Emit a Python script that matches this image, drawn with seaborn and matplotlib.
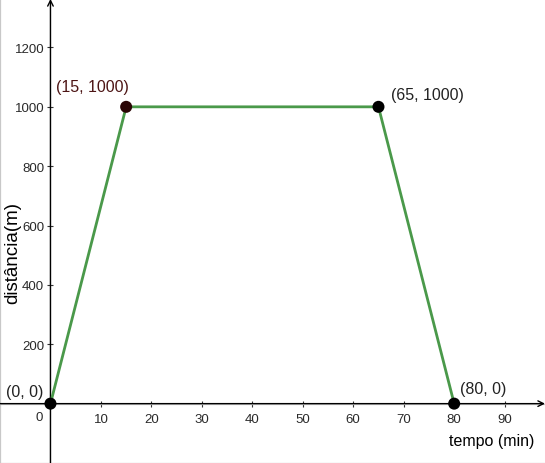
import matplotlib
matplotlib.use("Agg")
import matplotlib.pyplot as plt
import seaborn as sns
import pandas as pd

# data
tempo = [0, 15, 65, 80]
distancia = [0, 1000, 1000, 0]
point_labels = ["(0, 0)", "(15, 1000)", "(65, 1000)", "(80, 0)"]
x_ticks = [10, 20, 30, 40, 50, 60, 70, 80, 90]
y_ticks = [200, 400, 600, 800, 1000, 1200]

df = pd.DataFrame({"tempo": tempo, "distancia": distancia})

sns.set_theme(style="white")
plt.rcParams["font.family"] = ["Liberation Sans", "DejaVu Sans"]

fig = plt.figure(figsize=(5.45, 4.64), dpi=100)
ax = fig.add_axes([0, 0, 1, 1])
ax.set_xlim(-9.9, 98.0)
ax.set_ylim(-183.3, 1363.3)

# grid
ax.set_xticks(range(-10, 100, 10), minor=True)
ax.set_yticks(range(-200, 1400, 200), minor=True)
ax.grid(which="minor", color="#c8c8c8", linewidth=0.9)
ax.tick_params(which="minor", length=0)

for s in ["top", "right", "left", "bottom"]:
    ax.spines[s].set_visible(False)
ax.spines["left"].set_position(("data", 0))
ax.spines["bottom"].set_position(("data", 0))

# axis lines with arrows
ax.annotate("", xy=(1.0, 0), xycoords=("axes fraction", "data"),
            xytext=(0.0, 0), textcoords=("axes fraction", "data"),
            arrowprops=dict(arrowstyle="->", color="black", lw=1.0,
                            shrinkA=0, shrinkB=0, mutation_scale=10))
ax.annotate("", xy=(0, 1.0), xycoords=("data", "axes fraction"),
            xytext=(0, 0.0), textcoords=("data", "axes fraction"),
            arrowprops=dict(arrowstyle="->", color="black", lw=1.0,
                            shrinkA=0, shrinkB=0, mutation_scale=10))

ax.set_xticks(x_ticks)
ax.set_yticks(y_ticks)
ax.tick_params(axis="both", which="major", direction="inout", length=5,
               width=0.8, color="#333333", labelsize=9.5, labelcolor="#2a2a2a",
               pad=2)
ax.tick_params(axis="x", which="major", pad=4)
ax.xaxis.set_ticks_position("bottom")
ax.yaxis.set_ticks_position("left")
ax.text(-1.6, -24, "0", ha="right", va="top", fontsize=9.5, color="#2a2a2a")

# line and points
sns.lineplot(data=df, x="tempo", y="distancia", ax=ax, color="#4a994a",
             linewidth=2.0, sort=False, zorder=3)
point_colors = ["black", "#2a0505", "black", "black"]
sns.scatterplot(x=tempo, y=distancia, ax=ax, color=point_colors, s=75,
                edgecolor="none", zorder=4, clip_on=False)

offsets = [(-5, 9, "right"), (-24, 14.5, "center"), (9, 9, "left"), (4, 11, "left")]
label_colors = ["#222222", "#4d1515", "#222222", "#222222"]
for x, y, lab, (dx, dy, ha), c in zip(tempo, distancia, point_labels, offsets, label_colors):
    ax.annotate(lab, (x, y), xytext=(dx, dy), textcoords="offset points",
                ha=ha, va="center", fontsize=11.5, color=c)

ax.set_xlabel("")
ax.set_ylabel("")
fig.text(492 / 545, 1 - 442 / 464, "tempo (min)", ha="center", va="center",
         fontsize=11.5, color="black")
fig.text(13 / 545, 1 - 253 / 464, "distância(m)", ha="center", va="center",
         rotation=90, fontsize=13.5, color="black")

fig.savefig("out.png", dpi=100)
